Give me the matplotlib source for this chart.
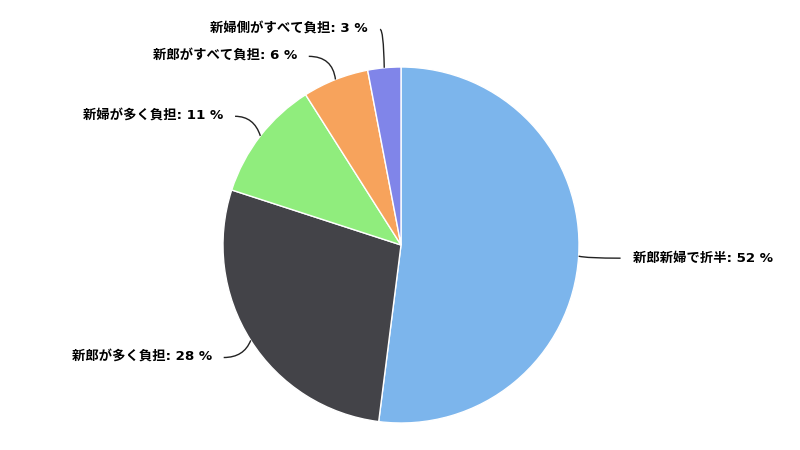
import numpy as np
import matplotlib; matplotlib.use("Agg")
import matplotlib.pyplot as plt
from matplotlib.path import Path
from matplotlib.patches import PathPatch

plt.rcParams["font.family"] = ["DejaVu Sans", "Noto Sans CJK JP"]

labels = ["新郎新婦で折半", "新郎が多く負担", "新婦が多く負担", "新郎がすべて負担", "新婦側がすべて負担"]
values = [52, 28, 11, 6, 3]
colors = ["#7cb5ec", "#434348", "#90ed7d", "#f7a35c", "#8085e9"]

W, H = 800, 450
CX, CY, R = 401, H - 245, 178
DIST = 32

fig = plt.figure(figsize=(8, 4.5), dpi=100)
ax = fig.add_axes([0, 0, 1, 1])
wedges, _ = ax.pie(values, colors=colors, startangle=90, counterclock=False,
                   center=(CX, CY), radius=R,
                   wedgeprops=dict(edgecolor="white", linewidth=1))
ax.set_xlim(0, W); ax.set_ylim(0, H)
ax.set_aspect("equal"); ax.axis("off")

# label layout
RL = R + DIST
items = []
for w, lab, v in zip(wedges, labels, values):
    th = np.deg2rad((w.theta1 + w.theta2) / 2)
    side = 1 if np.cos(th) >= 0 else -1
    items.append(dict(th=th, side=side, y=CY + RL * np.sin(th), text=f"{lab}: {v} %"))

# push apart overlapping labels on each side
for side in (1, -1):
    grp = sorted([it for it in items if it["side"] == side], key=lambda d: d["y"])
    for _ in range(20):
        for a, b in zip(grp, grp[1:]):
            if b["y"] - a["y"] < 27:
                m = (a["y"] + b["y"]) / 2
                a["y"], b["y"] = m - 13.5, m + 13.5

for it in items:
    th, side, y = it["th"], it["side"], it["y"]
    dy = np.clip(y - CY, -0.995 * RL, 0.995 * RL)
    x = CX + side * np.sqrt(RL ** 2 - dy ** 2)
    if side > 0:
        x += 10
    px, py = CX + R * np.cos(th), CY + R * np.sin(th)
    ctrl = (px + np.cos(th) * 8, y)
    path = Path([(x, y), ctrl, (px, py)], [Path.MOVETO, Path.CURVE3, Path.CURVE3])
    ax.add_patch(PathPatch(path, facecolor="none", edgecolor="#222222", lw=1))
    ax.text(x + side * 12, y, it["text"], ha="left" if side > 0 else "right",
            va="center", fontsize=9.6, fontweight="bold", color="#000000")

fig.savefig("out.png", dpi=100)
